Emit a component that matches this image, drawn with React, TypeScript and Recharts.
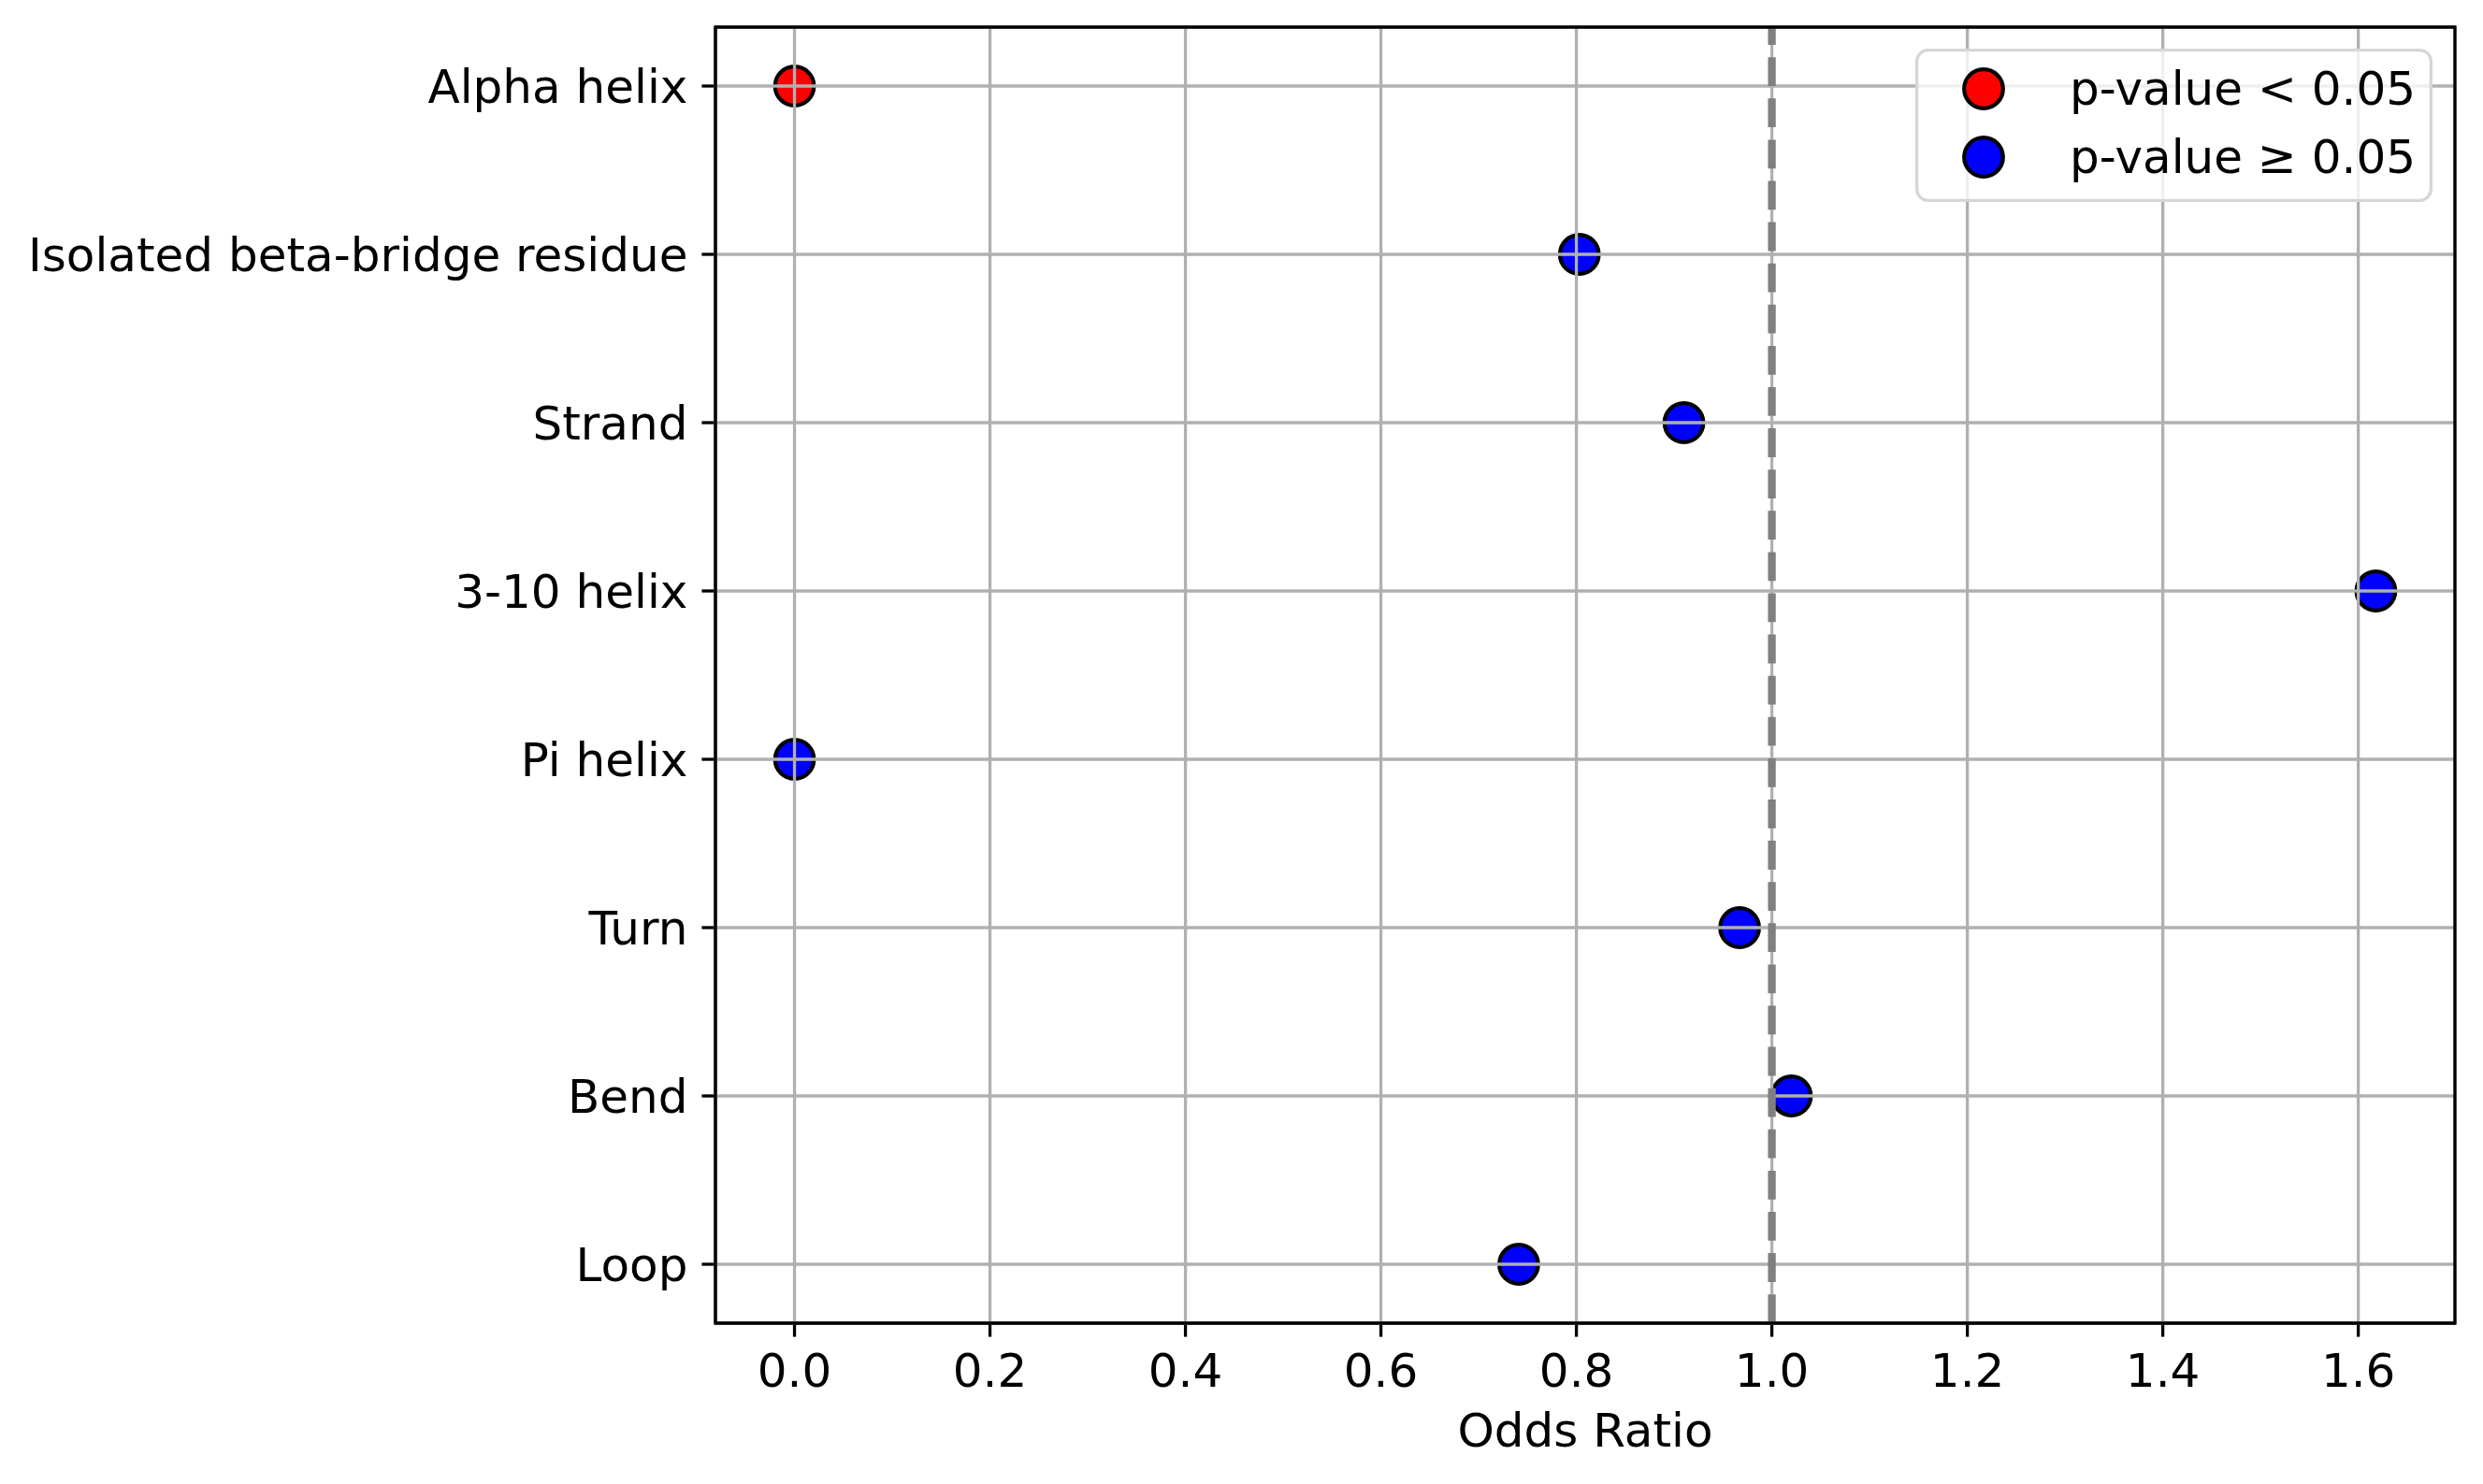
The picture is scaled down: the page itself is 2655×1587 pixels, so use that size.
import React from 'react';
import {
  ScatterChart,
  Scatter,
  XAxis,
  YAxis,
  CartesianGrid,
  ReferenceLine,
  ReferenceArea,
  Legend,
  Label,
} from 'recharts';

const categories = [
  'Alpha helix',
  'Isolated beta-bridge residue',
  'Strand',
  '3-10 helix',
  'Pi helix',
  'Turn',
  'Bend',
  'Loop',
];
const oddsRatios = [0.0, 0.803, 0.91, 1.618, 0.0, 0.967, 1.02, 0.741];
const significant = [true, false, false, false, false, false, false, false];
const xTicks = [0, 0.2, 0.4, 0.6, 0.8, 1.0, 1.2, 1.4, 1.6];
const seriesNames = ['p-value < 0.05', 'p-value \u2265 0.05'];
const seriesColors = ['#ff0000', '#0000ff'];

const FONT = 'DejaVu Sans';
const FS = 50;

const points = categories.map((name, i) => ({
  name,
  idx: i,
  or: oddsRatios[i],
  sig: significant[i],
}));
const sigPoints = points.filter((p) => p.sig);
const nonSigPoints = points.filter((p) => !p.sig);

// matplotlib-style 5% margins
const xMin = Math.min(0, ...oddsRatios);
const xMax = Math.max(...oddsRatios);
const xPad = (xMax - xMin) * 0.05;
const xDomain = [xMin - xPad, xMax + xPad];
const yPad = (categories.length - 1) * 0.05;
const yDomain = [-yPad, categories.length - 1 + yPad];
const yTicks = categories.map((_, i) => i);

const Dot = (props: any) => (
  <circle cx={props.cx} cy={props.cy} r={20.8} fill={props.fill} stroke="#000" strokeWidth={4.2} />
);

const LegendBox = (props: any) => {
  const payload = props.payload && props.payload.length ? props.payload : null;
  const items = payload
    ? payload.map((p: any) => ({ name: p.value, color: p.color }))
    : seriesNames.map((n, i) => ({ name: n, color: seriesColors[i] }));
  return (
    <svg width={553} height={164} style={{ display: 'block' }}>
      <rect
        x={1.65}
        y={1.65}
        width={549.7}
        height={160.7}
        rx={12}
        fill="#fff"
        fillOpacity={0.8}
        stroke="#d6d6d6"
        strokeWidth={3.3}
      />
      {items.map((it: any, i: number) => (
        <g key={it.name}>
          <circle cx={73} cy={43 + i * 73} r={20.8} fill={it.color} stroke="#000" strokeWidth={4.2} />
          <text x={165} y={60 + i * 73} fontFamily={FONT} fontSize={FS} fill="#000">
            {it.name}
          </text>
        </g>
      ))}
    </svg>
  );
};

const tickStyle = { fill: '#000', fontSize: FS, fontFamily: FONT };

export default function App() {
  return (
    <div style={{ position: 'absolute', left: 0, top: 0, background: '#fff' }}>
      <ScatterChart width={2655} height={1587} margin={{ top: 29, right: 30, bottom: 0, left: 0 }}>
        <XAxis
          type="number"
          dataKey="or"
          domain={xDomain}
          ticks={xTicks}
          allowDataOverflow
          tickFormatter={(v: number) => v.toFixed(1)}
          tick={tickStyle}
          tickSize={14.6}
          tickMargin={18}
          tickLine={{ stroke: '#000', strokeWidth: 3.3 }}
          axisLine={{ stroke: '#000', strokeWidth: 3.3 }}
          height={172}
        >
          <Label
            value="Odds Ratio"
            position="insideBottom"
            offset={40}
            fill="#000"
            fontSize={FS}
            fontFamily={FONT}
          />
        </XAxis>
        <YAxis
          type="number"
          dataKey="idx"
          domain={yDomain}
          ticks={yTicks}
          interval={0}
          reversed
          allowDataOverflow
          tickFormatter={(v: number) => categories[v] ?? ''}
          tick={tickStyle}
          tickSize={14.6}
          tickMargin={15}
          tickLine={{ stroke: '#000', strokeWidth: 3.3 }}
          axisLine={{ stroke: '#000', strokeWidth: 3.3 }}
          width={765}
        />
        <Scatter
          name={seriesNames[0]}
          data={sigPoints}
          fill={seriesColors[0]}
          shape={Dot}
          isAnimationActive={false}
        />
        <Scatter
          name={seriesNames[1]}
          data={nonSigPoints}
          fill={seriesColors[1]}
          shape={Dot}
          isAnimationActive={false}
        />
        <CartesianGrid stroke="#b0b0b0" strokeWidth={3.3} zIndex={700} />
        <ReferenceLine
          x={1}
          stroke="#808080"
          strokeWidth={8.3}
          strokeDasharray="30.8 13.3"
          zIndex={800}
        />
        <ReferenceArea
          x1={xDomain[0]}
          x2={xDomain[1]}
          y1={yDomain[0]}
          y2={yDomain[1]}
          fill="none"
          fillOpacity={0}
          stroke="#000"
          strokeWidth={3.3}
          zIndex={900}
        />
        <Legend
          layout="vertical"
          align="center"
          verticalAlign="middle"
          content={LegendBox}
          wrapperStyle={{ left: 2048, top: 52, width: 553, height: 164 }}
        />
      </ScatterChart>
    </div>
  );
}
